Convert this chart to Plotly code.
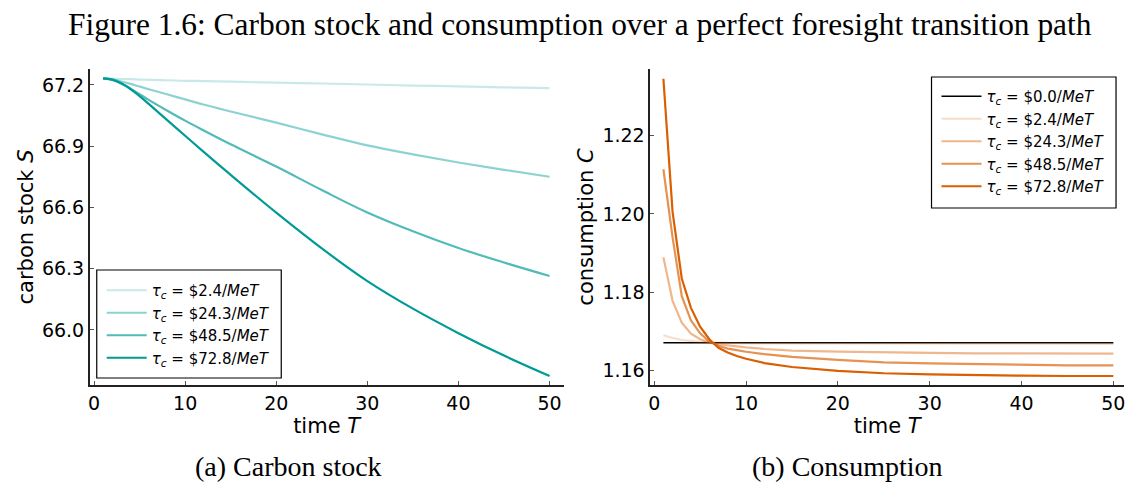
import plotly.graph_objects as go

W, H = 1126, 484

# ---------------- data ----------------
t_stock = [1, 2, 3, 4, 5, 6, 8, 10, 12, 15, 20, 25, 30, 35, 40, 45, 50]
stock_2_4 = [67.232, 67.231, 67.229, 67.228, 67.226, 67.225, 67.223, 67.220, 67.219,
             67.216, 67.211, 67.207, 67.202, 67.197, 67.193, 67.188, 67.184]
stock_24_3 = [67.232, 67.227, 67.217, 67.205, 67.192, 67.179, 67.154, 67.129, 67.104,
              67.070, 67.015, 66.958, 66.904, 66.860, 66.820, 66.784, 66.750]
stock_48_5 = [67.232, 67.224, 67.206, 67.182, 67.155, 67.127, 67.075, 67.025, 66.978,
              66.909, 66.800, 66.685, 66.575, 66.483, 66.401, 66.330, 66.264]
stock_72_8 = [67.232, 67.226, 67.208, 67.180, 67.145, 67.107, 67.029, 66.951, 66.873,
              66.759, 66.574, 66.399, 66.239, 66.104, 65.984, 65.874, 65.774]

t_cons = [1, 2, 3, 4, 5, 6, 7, 8, 9, 10, 12, 15, 20, 25, 30, 35, 40, 45, 50]
cons_0_0 = [1.1671] * len(t_cons)
cons_2_4 = [1.1690, 1.1683, 1.1678, 1.1675, 1.1673, 1.1672, 1.1671, 1.1670, 1.1670, 1.1669,
            1.1669, 1.1669, 1.1668, 1.1668, 1.1668, 1.1668, 1.1668, 1.1668, 1.1668]
cons_24_3 = [1.1889, 1.1778, 1.1722, 1.1694, 1.1680, 1.1672, 1.1667, 1.1664, 1.1661, 1.1659,
             1.1655, 1.1651, 1.1648, 1.1646, 1.1645, 1.1644, 1.1644, 1.1643, 1.1643]
cons_48_5 = [1.2114, 1.1940, 1.1790, 1.1728, 1.1695, 1.1674, 1.1663, 1.1656, 1.1652, 1.1648,
             1.1642, 1.1635, 1.1627, 1.1621, 1.1618, 1.1616, 1.1614, 1.1613, 1.1613]
cons_72_8 = [1.2345, 1.2005, 1.1835, 1.1760, 1.1712, 1.1680, 1.1658, 1.1646, 1.1637, 1.1630,
             1.1619, 1.1609, 1.1599, 1.1593, 1.1590, 1.1588, 1.1587, 1.1586, 1.1586]

tax_labels = ["0.0", "2.4", "24.3", "48.5", "72.8"]
stock_series = [stock_2_4, stock_24_3, stock_48_5, stock_72_8]
cons_series = [cons_0_0, cons_2_4, cons_24_3, cons_48_5, cons_72_8]

stock_ticks = [66.0, 66.3, 66.6, 66.9, 67.2]
cons_ticks = [1.16, 1.18, 1.20, 1.22]
time_ticks = [0, 10, 20, 30, 40, 50]

# ---------------- style ----------------
teal = (0, 155, 150)
orange = (217, 95, 2)
alphas = [0.22, 0.45, 0.68, 1.0]


def rgba(c, a):
    return f"rgba({c[0]},{c[1]},{c[2]},{a})"


def lab(v):
    return f"<i>τ</i><sub><i>c</i></sub> = ${v}/<i>MeT</i>"


fig = go.Figure()

for i, ys in enumerate(stock_series):
    fig.add_trace(go.Scatter(
        x=t_stock, y=ys, mode="lines", line=dict(color=rgba(teal, alphas[i]), width=2.2, shape="spline"),
        name=lab(tax_labels[i + 1]), xaxis="x", yaxis="y", legend="legend"))

for i, ys in enumerate(cons_series):
    if i == 0:
        col, wd = "black", 1.5
    else:
        col, wd = rgba(orange, alphas[i - 1]), 2.2
    fig.add_trace(go.Scatter(
        x=t_cons, y=ys, mode="lines", line=dict(color=col, width=wd),
        name=lab(tax_labels[i]), xaxis="x2", yaxis="y2", legend="legend2"))

FONT = "DejaVu Sans"
axis_common = dict(showline=True, linecolor="#222", linewidth=1.5, mirror=False,
                   ticks="inside", ticklen=4, tickwidth=1, tickcolor="#555",
                   showgrid=False, zeroline=False, ticklabeloverflow="allow",
                   tickfont=dict(family=FONT, size=19, color="black"),
                   title_font=dict(family=FONT, size=21, color="black"))

ydom = [1 - 385 / H, 1 - 69 / H]

legend_common = dict(xanchor="left", yanchor="top", bgcolor="rgba(0,0,0,0)",
                     borderwidth=0, itemwidth=40,
                     font=dict(family=FONT, size=15, color="black"))

fig.update_layout(
    width=W, height=H,
    margin=dict(l=0, r=0, t=0, b=0),
    paper_bgcolor="white", plot_bgcolor="white",
    font=dict(family=FONT, color="black"),
    xaxis=dict(domain=[88 / W, 563 / W], range=[-0.47, 51.53], tickvals=time_ticks,
               anchor="y", title=dict(text="time <i>T</i>", standoff=2), **axis_common),
    yaxis=dict(domain=ydom, range=[65.73, 67.278], tickvals=stock_ticks, tickformat=".1f",
               anchor="x", title=dict(text="carbon stock <i>S</i>", standoff=3), **axis_common),
    xaxis2=dict(domain=[650 / W, 1125 / W], range=[-0.43, 51.16], tickvals=time_ticks,
                anchor="y2", title=dict(text="time <i>T</i>", standoff=2), **axis_common),
    yaxis2=dict(domain=ydom, range=[1.1563, 1.237], tickvals=cons_ticks, tickformat=".2f",
                anchor="x2", title=dict(text="consumption <i>C</i>", standoff=3), **axis_common),
    legend=dict(x=100 / W, y=1 - 274 / H, **legend_common),
    legend2=dict(x=937 / W, y=1 - 80 / H, **legend_common),
    shapes=[
        dict(type="rect", xref="paper", yref="paper", x0=95 / W, x1=280 / W,
             y0=1 - 378 / H, y1=1 - 270 / H, line=dict(color="black", width=1.2),
             fillcolor="white", layer="below"),
        dict(type="rect", xref="paper", yref="paper", x0=932 / W, x1=1117 / W,
             y0=1 - 208 / H, y1=1 - 77 / H, line=dict(color="black", width=1.2),
             fillcolor="white", layer="below"),
    ],
    annotations=[
        dict(text="Figure 1.6: Carbon stock and consumption over a perfect foresight transition path",
             x=580 / W, y=1 - 24 / H, xref="paper", yref="paper", showarrow=False,
             xanchor="center", yanchor="middle",
             font=dict(family="Liberation Serif", size=31.4, color="black")),
        dict(text="(a) Carbon stock", x=287 / W, y=1 - 466 / H, xref="paper", yref="paper",
             showarrow=False, xanchor="center", yanchor="middle",
             font=dict(family="Liberation Serif", size=28, color="black")),
        dict(text="(b) Consumption", x=848 / W, y=1 - 466 / H, xref="paper", yref="paper",
             showarrow=False, xanchor="center", yanchor="middle",
             font=dict(family="Liberation Serif", size=28, color="black")),
    ],
)

fig.write_html("out.html")
